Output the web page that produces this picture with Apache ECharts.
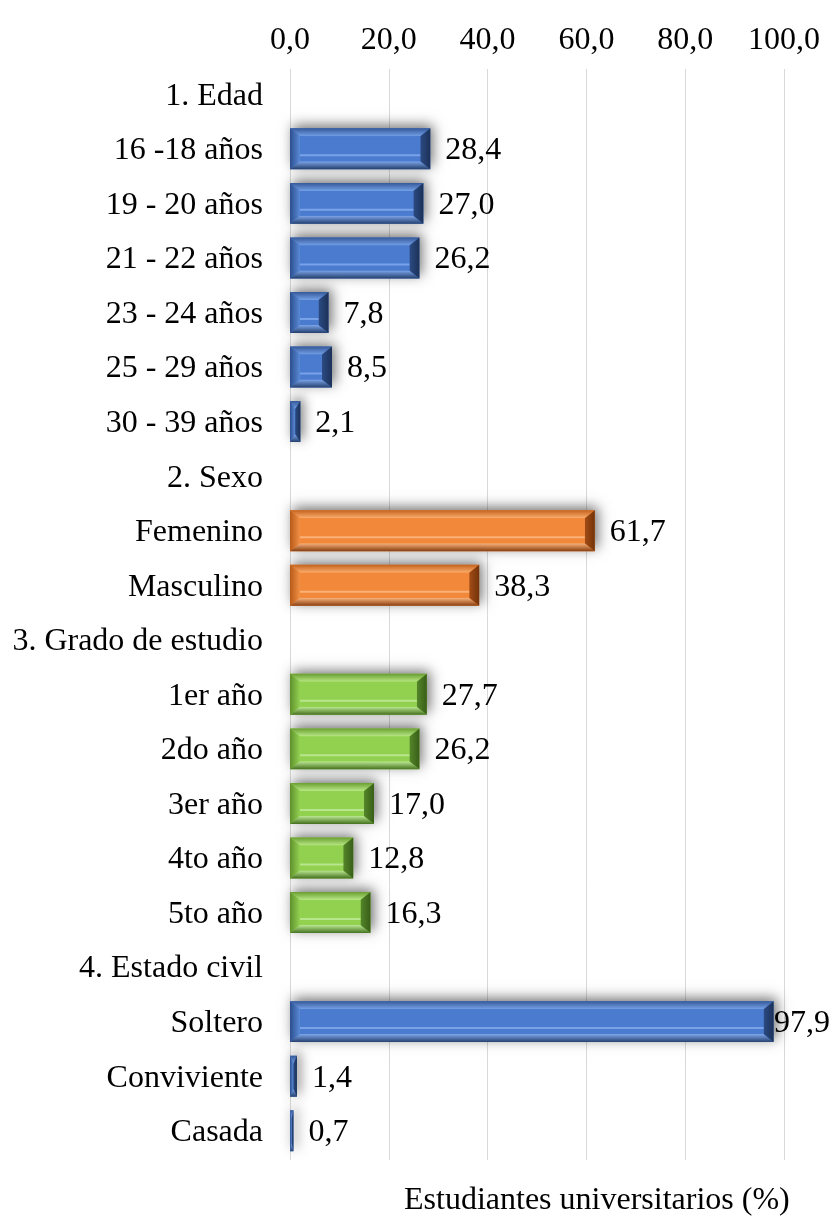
<!DOCTYPE html>
<html>
<head>
<meta charset="utf-8">
<script src="https://cdn.jsdelivr.net/npm/echarts@6/dist/echarts.min.js"></script>
<style>
  html, body { margin: 0; padding: 0; background: #fff; }
  #chart { width: 832px; height: 1224px; }
</style>
</head>
<body>
<div id="chart"></div>
<script>
// categorías (de arriba hacia abajo)
var categorias = ['1. Edad', '16 -18 años', '19 - 20 años', '21 - 22 años', '23 - 24 años',
  '25 - 29 años', '30 - 39 años', '2. Sexo', 'Femenino', 'Masculino', '3. Grado de estudio',
  '1er año', '2do año', '3er año', '4to año', '5to año', '4. Estado civil', 'Soltero',
  'Conviviente', 'Casada'];
// porcentajes (null = fila de título)
var valores = [null, 28.4, 27.0, 26.2, 7.8, 8.5, 2.1, null, 61.7, 38.3, null,
  27.7, 26.2, 17.0, 12.8, 16.3, null, 97.9, 1.4, 0.7];
// 0 azul, 1 naranja, 2 verde
var grupos = [0, 0, 0, 0, 0, 0, 0, 1, 1, 1, 2, 2, 2, 2, 2, 2, 0, 0, 0, 0];
var ticksX = [0, 20, 40, 60, 80, 100];

var FONT = '"Liberation Serif", "Times New Roman", serif';

// colores del bisel: cara, arriba, izquierda, abajo, derecha, brillo
var paletas = [
  { face: '#4a7bcf', top: ['#35599a', '#74a0e6'], left: ['#2c4f8e', '#5a8ad6'], bottom: ['#7ea6ea', '#24406f'], right: ['#2c4b83', '#1b3158'], hi: '#86adef' },
  { face: '#f2883a', top: ['#c5621e', '#fbae6e'], left: ['#b85a1a', '#f19045'], bottom: ['#fbb57f', '#8a4010'], right: ['#a24c16', '#733309'], hi: '#fcbb88' },
  { face: '#92d050', top: ['#6a9f31', '#b9e886'], left: ['#5f912c', '#93d152'], bottom: ['#bde995', '#46731f'], right: ['#54862a', '#395e18'], hi: '#c2eb9c' }
];

var datos = [];
valores.forEach(function (v, i) {
  if (v !== null) datos.push([v, i, grupos[i]]);
});

function fmt(v) { return v.toFixed(1).replace('.', ','); }

var ctx = document.createElement('canvas').getContext('2d');
ctx.font = '32px ' + FONT;

function grad(x, y, x2, y2, c) {
  return { type: 'linear', x: x, y: y, x2: x2, y2: y2, colorStops: [{ offset: 0, color: c[0] }, { offset: 1, color: c[1] }] };
}

function renderBar(params, api) {
  var v = api.value(0), idx = api.value(1), g = api.value(2);
  var pal = paletas[g];
  var p0 = api.coord([0, idx]);
  var p1 = api.coord([v, idx]);
  var h = api.size([0, 1])[1] * 0.75;
  var x0 = p0[0], x1 = p1[0], y0 = p0[1] - h / 2 - 2, y1 = y0 + h;
  var w = x1 - x0;
  var bx = Math.min(10, w / 2), by = Math.min(8, h / 2);
  var ix0 = x0 + bx, ix1 = x1 - bx, iy0 = y0 + by, iy1 = y1 - by;

  var txt = fmt(v);
  var tw = ctx.measureText(txt).width;
  var tx = Math.min(x1 + 15, params.coordSys.x + params.coordSys.width + 46 - tw);

  return {
    type: 'group',
    children: [
      { type: 'rect', shape: { x: x0, y: y0, width: w, height: h },
        style: { fill: pal.face, shadowBlur: 12, shadowColor: 'rgba(0,0,0,0.55)', shadowOffsetX: 3, shadowOffsetY: -3 } },
      { type: 'polygon', shape: { points: [[x0, y0], [x1, y0], [ix1, iy0], [ix0, iy0]] },
        style: { fill: grad(0, 0, 0, 1, pal.top) } },
      { type: 'polygon', shape: { points: [[x0, y0], [ix0, iy0], [ix0, iy1], [x0, y1]] },
        style: { fill: grad(0, 0, 1, 0, pal.left) } },
      { type: 'polygon', shape: { points: [[x0, y1], [ix0, iy1], [ix1, iy1], [x1, y1]] },
        style: { fill: grad(0, 0, 0, 1, pal.bottom) } },
      { type: 'polygon', shape: { points: [[x1, y0], [x1, y1], [ix1, iy1], [ix1, iy0]] },
        style: { fill: grad(0, 0, 1, 0, pal.right) } },
      { type: 'rect', shape: { x: ix0, y: iy0, width: Math.max(0, ix1 - ix0), height: Math.max(0, iy1 - iy0) },
        style: { fill: pal.face } },
      { type: 'rect', shape: { x: ix0, y: iy0 + (iy1 - iy0) * 0.72, width: Math.max(0, ix1 - ix0), height: 2 },
        style: { fill: pal.hi, opacity: 0.8 } },
      { type: 'text', style: { text: txt, x: tx, y: p0[1], fill: '#000', fontSize: 32, fontFamily: FONT, verticalAlign: 'middle', align: 'left' } }
    ]
  };
}

var chart = echarts.init(document.getElementById('chart'));

var option = {
  backgroundColor: '#fff',
  animation: false,
  title: {
    text: 'Estudiantes universitarios (%)',
    left: 399,
    top: 1180,
    textStyle: { fontFamily: FONT, fontSize: 32, fontWeight: 'normal', color: '#000' }
  },
  grid: { left: 290, right: 48, top: 69, bottom: 64, containLabel: false },
  xAxis: {
    type: 'value',
    position: 'top',
    min: ticksX[0],
    max: ticksX[ticksX.length - 1],
    interval: ticksX[1] - ticksX[0],
    axisLine: { show: false },
    axisTick: { show: false },
    splitLine: { show: true, lineStyle: { color: '#d9d9d9', width: 1 } },
    axisLabel: {
      margin: 12,
      color: '#000',
      fontFamily: FONT,
      fontSize: 32,
      formatter: function (v) { return fmt(v); }
    }
  },
  yAxis: {
    type: 'category',
    inverse: true,
    data: categorias,
    axisLine: { show: false },
    axisTick: { show: false },
    axisLabel: { margin: 27, color: '#000', fontFamily: FONT, fontSize: 32 }
  },
  series: [{
    type: 'custom',
    renderItem: renderBar,
    encode: { x: 0, y: 1 },
    data: datos,
    clip: false
  }]
};

chart.setOption(option);
</script>
</body>
</html>
